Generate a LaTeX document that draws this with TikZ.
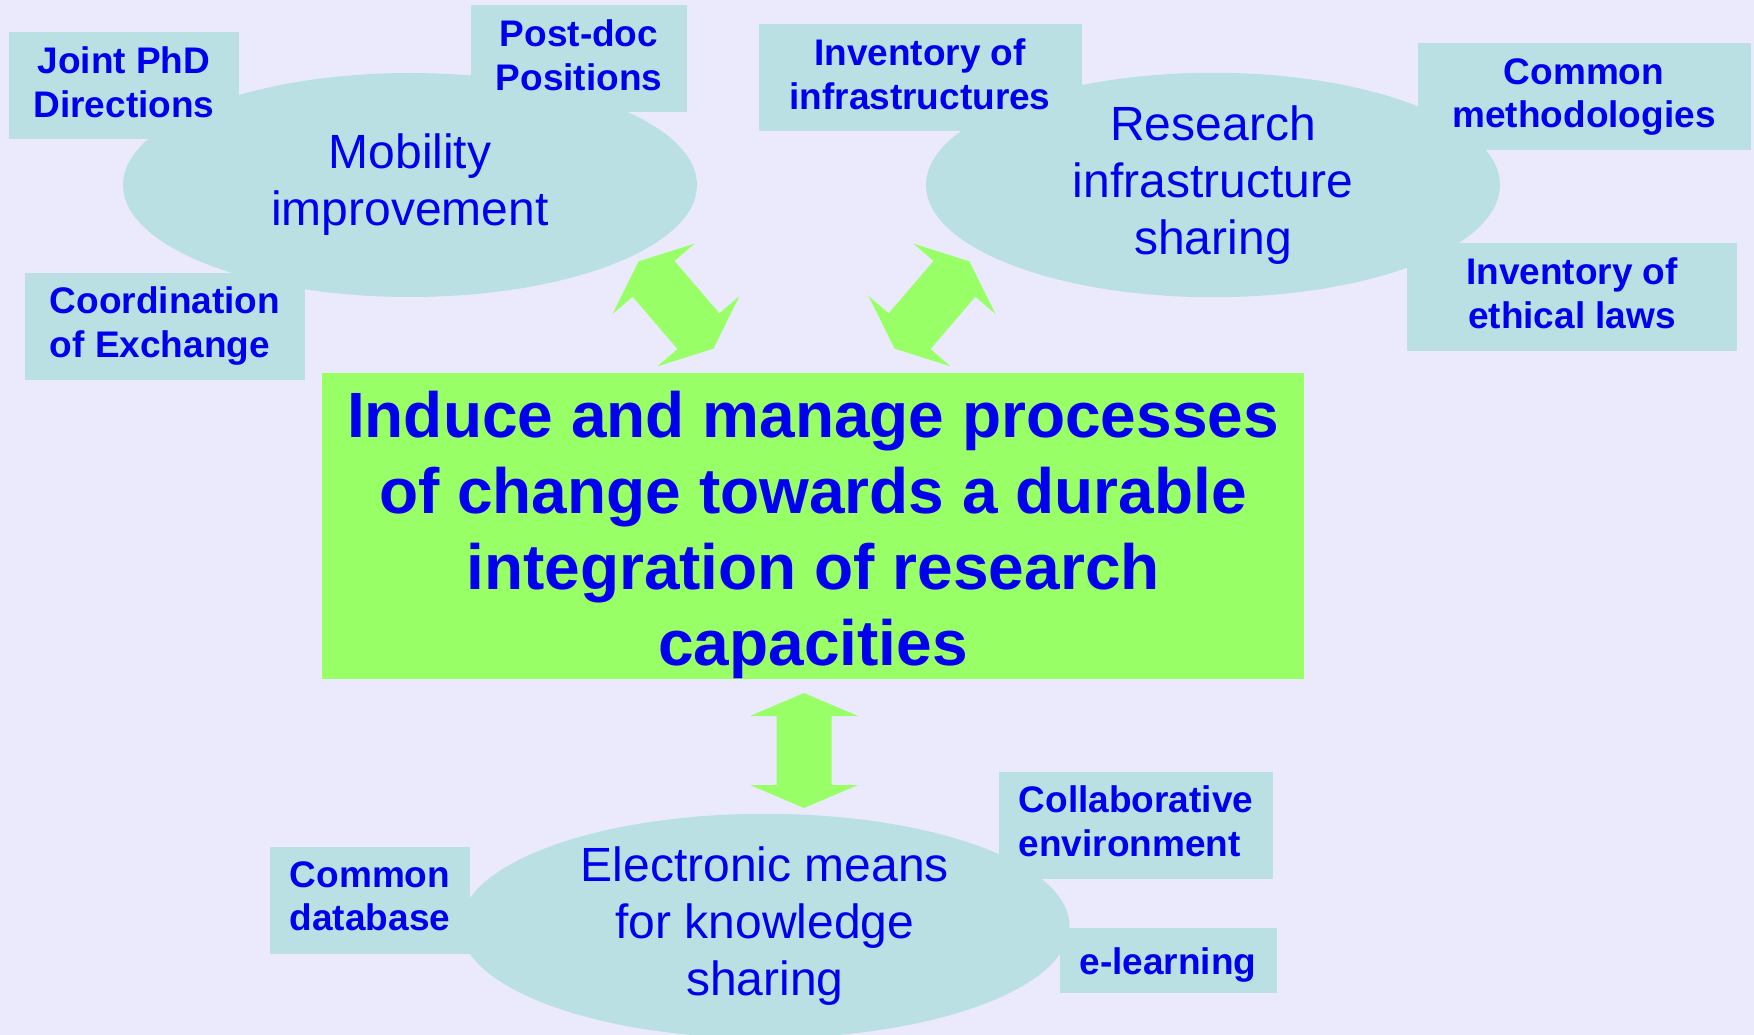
\documentclass[tikz,border=0pt]{standalone}
\usepackage{fontspec}
\setmainfont{Liberation Sans}
\usepackage{xcolor}
\usepackage{tikz}
\usetikzlibrary{shapes.geometric}

\definecolor{bglavender}{HTML}{EAEAFC}
\definecolor{paleteal}{HTML}{BBE0E3}
\definecolor{limegreen}{HTML}{99FF66}
\definecolor{deepblue}{HTML}{0000EE}

\begin{document}
\begin{tikzpicture}[x=1pt, y=1pt,
        topic/.style={ellipse, fill=paleteal, text=deepblue, align=center, inner sep=0pt,
            minimum width=574pt, minimum height=224pt, font=\fontsize{48}{57}\selectfont,
            execute at begin node={\rule{0pt}{43pt}}},
        item/.style={rectangle, fill=paleteal, text=deepblue, align=center, inner sep=0pt,
            minimum height=107pt, font=\bfseries\fontsize{37}{43.5}\selectfont,
            execute at begin node={\rule{0pt}{36pt}},
            execute at end node={\rule[-8pt]{0pt}{8pt}}},
        goal/.style={rectangle, fill=limegreen, text=deepblue, align=center, inner sep=0pt,
            minimum width=982pt, minimum height=302pt, font=\bfseries\fontsize{64}{76}\selectfont},
        dblarrow/.pic={
            \fill[limegreen] (0,57.5) -- (54,34.5) -- (27.5,34.5) -- (27.5,-34.5) -- (54,-34.5)
                -- (0,-57.5) -- (-54,-34.5) -- (-27.5,-34.5) -- (-27.5,34.5) -- (-54,34.5) -- cycle;
        }]
        \fill[bglavender] (0,0) rectangle (1754,-1035);
        \useasboundingbox (0,0) rectangle (1754,-1035);

        % three topics
        \node[topic] (mobility) at (410,-185) {Mobility\\improvement};
        \node[topic] (research) at (1213,-185) {Research\\infrastructure\\sharing};
        \node[topic, minimum width=609pt] (electronic) at (765,-926) {Electronic means\\for knowledge\\sharing};

        % actions around them
        \node[item, minimum width=230pt] (phd) at (124,-86) {Joint PhD\\Directions};
        \node[item, minimum width=216pt] (postdoc) at (579,-59) {Post-doc\\Positions};
        \node[item, minimum width=280pt, align=left] (exchange) at (165,-326) {Coordination\\of Exchange};
        \node[item, minimum width=323pt] (infra) at (920,-78) {Inventory of\\infrastructures};
        \node[item, minimum width=333pt] (methods) at (1584,-97) {Common\\methodologies};
        \node[item, minimum width=330pt] (ethics) at (1572,-297) {Inventory of\\ethical laws};
        \node[item, minimum width=200pt] (database) at (370,-900) {Common\\database};
        \node[item, minimum width=274pt, align=left] (collab) at (1136,-825) {Collaborative\\environment};
        \node[item, minimum width=217pt, minimum height=65pt] (elearn) at (1168,-960) {e-learning};

        \node[goal] (change) at (813,-526) {\rule{0pt}{64pt}Induce and manage processes\\of change towards a durable\\integration of research\\capacities};

        \pic[rotate=40.6] at (676,-305) {dblarrow};
        \pic[rotate=-40.6] at (932,-305) {dblarrow};
        \pic at (804,-750.5) {dblarrow};
    \end{tikzpicture}
\end{document}
